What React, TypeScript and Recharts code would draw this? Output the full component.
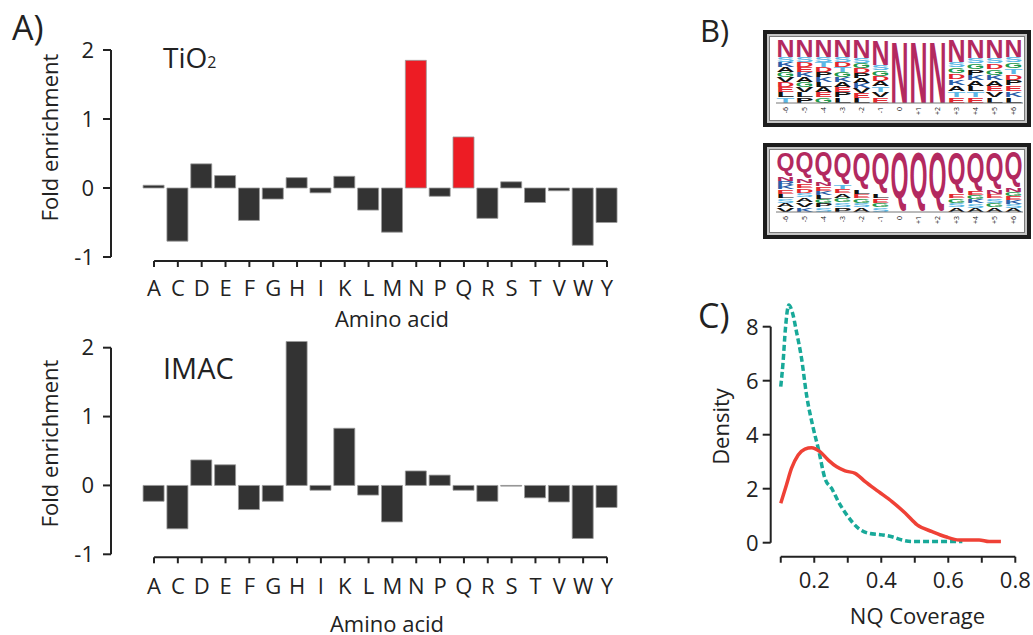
import React from "react";
import { BarChart, Bar, Cell, XAxis, YAxis, LineChart, Line } from "recharts";

// Panel A: fold enrichment per amino acid
const aminoAcids = ["A", "C", "D", "E", "F", "G", "H", "I", "K", "L", "M", "N", "P", "Q", "R", "S", "T", "V", "W", "Y"];
const tio2Values = [0.04, -0.77, 0.35, 0.18, -0.47, -0.16, 0.15, -0.07, 0.17, -0.32, -0.64, 1.85, -0.12, 0.74, -0.44, 0.09, -0.21, -0.04, -0.83, -0.5];
const imacValues = [-0.23, -0.63, 0.37, 0.3, -0.35, -0.23, 2.09, -0.07, 0.83, -0.14, -0.53, 0.21, 0.15, -0.07, -0.23, -0.01, -0.18, -0.24, -0.77, -0.32];
const tio2Highlighted = ["N", "Q"];
const enrichmentTicks = [-1, 0, 1, 2];

// Panel B: sequence logos (share of the top letter, then the other letters top to bottom)
const logoPositions = ["-6", "-5", "-4", "-3", "-2", "-1", "0", "+1", "+2", "+3", "+4", "+5", "+6"];
const nLogoMain = [0.27, 0.27, 0.27, 0.27, 0.29, 0.4, 1, 1, 1, 0.35, 0.29, 0.29, 0.27];
const nLogoRest = ["SKAGVDELT", "SDEKAGVLP", "STDPKLAEG", "SDTGKAEPL", "SGDPAKVEL", "SGDATVE", "", "", "", "SGDKATE", "SGPKALTE", "SDGKAEVL", "SGTDPEKL"];
const qLogoMain = [0.41, 0.45, 0.51, 0.54, 0.63, 0.7, 1, 1, 1, 0.7, 0.66, 0.63, 0.6];
const qLogoRest = ["NRKELSAV", "NEDSAVK", "NEKLGPS", "TEAGSP", "LEGSA", "LEGS", "", "", "", "EGSA", "EGKSA", "NESGA", "NGEKSA"];

// Panel C: density of NQ coverage
const redCoverage = [0.1, 0.117, 0.132, 0.152, 0.172, 0.192, 0.217, 0.242, 0.267, 0.292, 0.322, 0.352, 0.392, 0.432, 0.472, 0.507, 0.552, 0.592, 0.632, 0.692, 0.722, 0.757];
const redDensity = [1.46, 2.14, 2.75, 3.25, 3.47, 3.52, 3.37, 3.06, 2.81, 2.66, 2.57, 2.26, 1.89, 1.52, 1.09, 0.66, 0.41, 0.22, 0.1, 0.1, 0.04, 0.04];
const tealCoverage = [0.1, 0.107, 0.114, 0.124, 0.134, 0.147, 0.162, 0.177, 0.197, 0.212, 0.232, 0.252, 0.272, 0.297, 0.332, 0.362, 0.402, 0.432, 0.462, 0.492, 0.55, 0.642];
const tealDensity = [5.78, 6.7, 7.94, 8.8, 8.56, 7.81, 6.83, 5.47, 4.24, 3.49, 2.38, 2.01, 1.52, 1.03, 0.53, 0.35, 0.29, 0.22, 0.1, 0.04, 0.04, 0.04];
const coverageTicks = [0.1, 0.2, 0.3, 0.4, 0.5, 0.6, 0.7, 0.8];
const labelledCoverage = [0.2, 0.4, 0.6, 0.8];
const densityTicks = [0, 2, 4, 6, 8];

const INK = "#222";
const FONT = "'Open Sans', sans-serif";

const letterColors: Record<string, string> = {
  N: "#B3295F", Q: "#B3295F",
  S: "#5CB8E6", T: "#5CB8E6",
  D: "#E2262E", E: "#E2262E",
  K: "#2B5EA8", R: "#2B5EA8", H: "#2B5EA8",
  G: "#1F9A4C",
};
const colorOf = (ch: string) => letterColors[ch] || "#111";
// glyph tails below the baseline, in units of a 100px font
const tails: Record<string, number> = { Q: 22 };

const Glyph = ({ ch, x, y, w, h }: any) => {
  if (!(h > 0) || !(w > 0)) return null;
  const tail = tails[ch] || 0;
  const sy = h / (71.6 + tail);
  return (
    <text
      transform={`translate(${x},${y + h - tail * sy}) scale(${w / 70},${sy})`}
      fontFamily="'Liberation Sans', Arial, sans-serif"
      fontWeight={700}
      fontSize={100}
      textLength={70}
      lengthAdjust="spacingAndGlyphs"
      fill={colorOf(ch)}
    >
      {ch}
    </text>
  );
};

const MainLetter = (props: any) => {
  const { x, y, width, height, payload } = props;
  return (
    <g>
      <Glyph ch={payload.top} x={x} y={y} w={width} h={height} />
    </g>
  );
};

const RestLetters = (props: any) => {
  const { x, y, width, height, payload } = props;
  const letters: string = payload.letters;
  if (!letters || !(height > 0)) return <g />;
  const step = height / letters.length;
  return (
    <g>
      {letters.split("").map((ch, i) => (
        <Glyph key={i} ch={ch} x={x} y={y + i * step} w={width} h={step * 0.92} />
      ))}
    </g>
  );
};

const LogoTick = ({ x, y, payload }: any) => (
  <text transform={`translate(${x},${y}) rotate(-90)`} textAnchor="end" dy="0.35em" fontSize={7} fill={INK}>
    {payload.value}
  </text>
);

const SequenceLogo = ({ top, main, rest, letter, plotTop, plotBottom, height }: any) => {
  const data = logoPositions.map((pos, i) => ({ pos, top: letter, main: main[i], rest: +(1 - main[i]).toFixed(3), letters: rest[i] }));
  return (
    <div
      style={{
        position: "absolute", left: 763, top, width: 268, height, boxSizing: "border-box",
        border: "4px solid #1c1c1c", boxShadow: "inset 0 0 0 2px #c4c4c4, inset 0 0 0 3px #7a7a7a", background: "#fff",
      }}
    >
      <BarChart width={260} height={height - 8} data={data} margin={{ top: plotTop, right: 4, left: 9, bottom: 0 }} barCategoryGap="3%">
        <XAxis dataKey="pos" height={height - 8 - plotBottom} axisLine={{ stroke: "#777", strokeWidth: 1 }} tickLine={false} tickSize={3} tickMargin={1} interval={0} tick={<LogoTick />} />
        <YAxis hide domain={[0, 1]} />
        <Bar dataKey="rest" stackId="logo" shape={<RestLetters />} isAnimationActive={false} />
        <Bar dataKey="main" stackId="logo" shape={<MainLetter />} isAnimationActive={false} />
      </BarChart>
    </div>
  );
};

const EnrichmentChart = ({ values, highlight, top, height, marginTop, marginBottom, axisHeight, domain, yDash, labelOffset, labelDx, labelDy, tickMargin }: any) => {
  const data = aminoAcids.map((aa, i) => ({ aa, value: values[i] }));
  return (
    <div style={{ position: "absolute", left: 0, top }}>
      <BarChart width={640} height={height} data={data} margin={{ top: marginTop, right: 21.1, left: 51, bottom: marginBottom }}>
        <XAxis
          dataKey="aa"
          interval={0}
          height={axisHeight}
          padding={{ left: 31.08, right: 0 }}
          tickSize={6}
          tickMargin={tickMargin}
          tick={{ fontSize: 22, fill: INK }}
          axisLine={{ stroke: INK, strokeWidth: 2, strokeDasharray: "0 43.08 453 1000" }}
          tickLine={{ stroke: INK, strokeWidth: 2 }}
          label={{ value: "Amino acid", position: "insideBottom", offset: labelOffset, dx: labelDx, fontSize: 22, fill: INK }}
        />
        <YAxis
          width={60}
          domain={domain}
          ticks={enrichmentTicks}
          tickSize={8}
          tickMargin={9}
          tick={{ fontSize: 22, fill: INK }}
          axisLine={{ stroke: INK, strokeWidth: 2, strokeDasharray: yDash }}
          tickLine={{ stroke: INK, strokeWidth: 2 }}
          label={{ value: "Fold enrichment", angle: -90, position: "center", dx: -30.6, dy: labelDy, fontSize: 22, fill: INK }}
        />
        <Bar dataKey="value" barSize={21} stroke="#9a9a9a" strokeWidth={0.8} isAnimationActive={false}>
          {data.map((d) => (
            <Cell key={d.aa} fill={highlight.includes(d.aa) ? "#ED1C24" : "#333333"} />
          ))}
        </Bar>
      </BarChart>
    </div>
  );
};

const DensityChart = () => {
  const red = redCoverage.map((x, i) => ({ x, y: redDensity[i] }));
  const teal = tealCoverage.map((x, i) => ({ x, y: tealDensity[i] }));
  return (
    <div style={{ position: "absolute", left: 690, top: 290 }}>
      <LineChart width={343} height={355} margin={{ top: 11.05, right: 17.7, left: 30.7, bottom: 10 }}>
        <XAxis
          type="number"
          dataKey="x"
          domain={[0.07, 0.8]}
          ticks={coverageTicks}
          tickFormatter={(v: number) => (labelledCoverage.some((t) => Math.abs(t - v) < 1e-6) ? v.toFixed(1) : "")}
          height={78.26}
          tickSize={6}
          tickMargin={10}
          tick={{ fontSize: 22, fill: INK }}
          axisLine={{ stroke: INK, strokeWidth: 2, strokeDasharray: "0 10.05 234.6 1000" }}
          tickLine={{ stroke: INK, strokeWidth: 2 }}
          label={{ value: "NQ Coverage", position: "insideBottom", offset: 11.5, dx: 24.5, fontSize: 22, fill: INK }}
        />
        <YAxis
          type="number"
          width={50}
          domain={[-0.52, 8.95]}
          ticks={densityTicks}
          tickSize={8}
          tickMargin={4}
          tick={{ fontSize: 22, fill: INK }}
          axisLine={{ stroke: INK, strokeWidth: 2, strokeDasharray: "0 25.65 216 1000" }}
          tickLine={{ stroke: INK, strokeWidth: 2 }}
          label={{ value: "Density", angle: -90, position: "center", dx: -24.7, dy: -2.4, fontSize: 22, fill: INK }}
        />
        <Line data={teal} dataKey="y" type="monotone" stroke="#18A999" strokeWidth={3.5} strokeDasharray="6 3" dot={false} isAnimationActive={false} />
        <Line data={red} dataKey="y" type="monotone" stroke="#EF4136" strokeWidth={3.5} dot={false} isAnimationActive={false} />
      </LineChart>
    </div>
  );
};

export default function App() {
  return (
    <div style={{ position: "absolute", left: 0, top: 0, width: 1033, height: 635, background: "#fff", fontFamily: FONT, overflow: "hidden" }}>
      <EnrichmentChart
        values={tio2Values}
        highlight={tio2Highlighted}
        top={0}
        height={340}
        marginTop={50}
        marginBottom={0}
        axisHeight={79}
        domain={[-1.058, 2]}
        yDash="207 1000"
        labelOffset={13}
        labelDx={27}
        labelDy={-18}
        tickMargin={13}
      />
      <EnrichmentChart
        values={imacValues}
        highlight={[]}
        top={300}
        height={345}
        marginTop={40.8}
        marginBottom={10}
        axisHeight={77.7}
        domain={[-1.0436, 2.1]}
        yDash="0 6.9 206.6 1000"
        labelOffset={3}
        labelDx={22}
        labelDy={-5.5}
        tickMargin={14.7}
      />
      <SequenceLogo top={30} height={97} main={nLogoMain} rest={nLogoRest} letter="N" plotTop={6} plotBottom={69} />
      <SequenceLogo top={143} height={96} main={qLogoMain} rest={qLogoRest} letter="Q" plotTop={4.7} plotBottom={65} />
      <DensityChart />
      <svg width={1033} height={635} style={{ position: "absolute", left: 0, top: 0, pointerEvents: "none" }}>
        <text x={12} y={40} fontSize={34} fill={INK}>A)</text>
        <text x={700} y={42} fontSize={31} fill={INK}>B)</text>
        <text x={698} y={328} fontSize={34} fill={INK}>C)</text>
        <text x={163} y={68} fontSize={28} fill={INK}>
          TiO<tspan fontSize={16}>2</tspan>
        </text>
        <text x={163} y={379} fontSize={29} fill={INK}>IMAC</text>
      </svg>
    </div>
  );
}
